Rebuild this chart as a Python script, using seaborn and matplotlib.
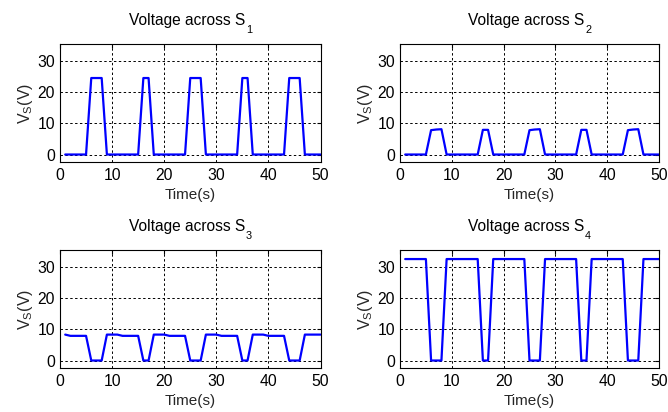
import matplotlib
matplotlib.use("Agg")
import matplotlib.pyplot as plt
import matplotlib.transforms as mtransforms
import seaborn as sns
import pandas as pd

time_s = list(range(1, 51))

v_s1 = [0, 0, 0, 0, 0, 24.5, 24.5, 24.5, 0, 0,
        0, 0, 0, 0, 0, 24.5, 24.5, 0, 0, 0,
        0, 0, 0, 0, 24.5, 24.5, 24.5, 0, 0, 0,
        0, 0, 0, 0, 24.5, 24.5, 0, 0, 0, 0,
        0, 0, 0, 24.5, 24.5, 24.5, 0, 0, 0, 0]

v_s2 = [0, 0, 0, 0, 0, 7.8, 8.0, 8.1, 0, 0,
        0, 0, 0, 0, 0, 7.9, 7.9, 0, 0, 0,
        0, 0, 0, 0, 7.8, 8.0, 8.1, 0, 0, 0,
        0, 0, 0, 0, 7.9, 7.9, 0, 0, 0, 0,
        0, 0, 0, 7.8, 8.0, 8.1, 0, 0, 0, 0]

v_s3 = [8.3, 7.9, 7.9, 7.9, 7.9, 0, 0, 0, 8.3, 8.3,
        8.3, 7.9, 7.9, 7.9, 7.9, 0, 0, 8.3, 8.3, 8.3,
        7.9, 7.9, 7.9, 7.9, 0, 0, 0, 8.3, 8.3, 8.3,
        7.9, 7.9, 7.9, 7.9, 0, 0, 8.3, 8.3, 8.3, 7.9,
        7.9, 7.9, 7.9, 0, 0, 0, 8.3, 8.3, 8.3, 8.3]

v_s4 = [32.5, 32.5, 32.5, 32.5, 32.5, 0, 0, 0, 32.5, 32.5,
        32.5, 32.5, 32.5, 32.5, 32.5, 0, 0, 32.5, 32.5, 32.5,
        32.5, 32.5, 32.5, 32.5, 0, 0, 0, 32.5, 32.5, 32.5,
        32.5, 32.5, 32.5, 32.5, 0, 0, 32.5, 32.5, 32.5, 32.5,
        32.5, 32.5, 32.5, 0, 0, 0, 32.5, 32.5, 32.5, 32.5]

title_main = "Voltage across S"
title_subs = ["1", "2", "3", "4"]
series = [v_s1, v_s2, v_s3, v_s4]
x_ticks = [0, 10, 20, 30, 40, 50]
y_ticks = [0, 10, 20, 30]

sns.set_style("white")
plt.rcParams["font.family"] = ["Liberation Sans", "DejaVu Sans"]
plt.rcParams["mathtext.fontset"] = "custom"
plt.rcParams["mathtext.rm"] = "Liberation Sans"
plt.rcParams["mathtext.it"] = "Liberation Sans"
plt.rcParams["mathtext.default"] = "regular"

W, H = 668, 412
fig = plt.figure(figsize=(W / 100, H / 100), dpi=100)
boxes = [(60, 44, 320.5, 162), (400, 44, 659, 162),
         (60, 250, 320.5, 368), (400, 250, 659, 368)]

titles = []
for (l, t, r, b), sub, vals in zip(boxes, title_subs, series):
    ax = fig.add_axes([l / W, 1 - b / H, (r - l) / W, (b - t) / H])
    df = pd.DataFrame({"t": time_s, "v": vals})
    sns.lineplot(data=df, x="t", y="v", ax=ax, color=(0, 0, 1), linewidth=1.6)
    ax.set_xlim(0, 50)
    ax.set_ylim(-2.4, 35.4)
    ax.set_xticks(x_ticks)
    ax.set_yticks(y_ticks)
    ax.grid(True, color="black", linestyle=(0, (2.5, 2.5)), linewidth=0.7)
    ax.set_axisbelow(True)
    for s in ax.spines.values():
        s.set_color("black")
        s.set_linewidth(0.8)
        s.set_visible(True)
    ax.tick_params(direction="in", length=3, width=0.8, top=True, right=True,
                   labelsize=11.3, colors="black")
    ax.tick_params(axis="x", pad=4.5)
    ax.tick_params(axis="y", pad=3.5)
    ax.set_xlabel("Time(s)", fontsize=11, labelpad=3.5)
    ax.set_ylabel(r"V$_S$(V)", fontsize=11.5, labelpad=2)
    tr = mtransforms.offset_copy(ax.transAxes, fig=fig, x=-3, y=19, units="dots")
    tt = ax.text(0.5, 1.0, title_main, transform=tr, ha="center",
                 va="baseline", fontsize=11.2, color="black")
    titles.append((ax, tt, sub))

fig.canvas.draw()
renderer = fig.canvas.get_renderer()
for ax, tt, sub in titles:
    bb = tt.get_window_extent(renderer)
    base_y = ax.transAxes.transform((0.5, 1.0))[1] + 19
    fig.text((bb.x1 + 0.5) / W, (base_y - 8) / H, sub, ha="left",
             va="baseline", fontsize=7.8, color="black")

fig.savefig("out.png", dpi=100)
